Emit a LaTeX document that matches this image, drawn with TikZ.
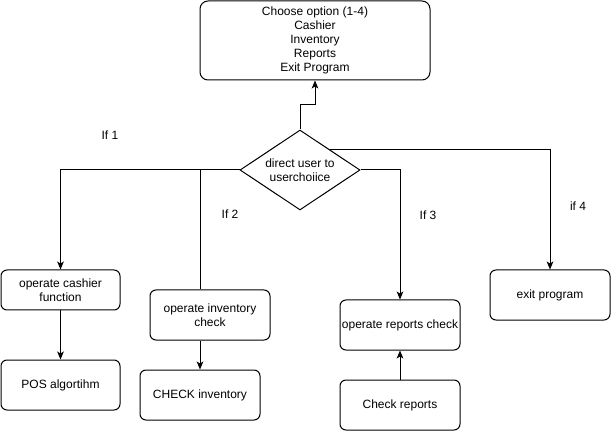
\documentclass[tikz,border=0pt]{standalone}
\usepackage{fontspec}
\setmainfont{Liberation Sans}
\usetikzlibrary{shapes.geometric,arrows.meta,calc}
\begin{document}
\begin{tikzpicture}[x=0.75pt,y=-0.75pt,
  box/.style={draw,line width=0.75pt,rounded corners=4.5pt,align=center,font=\fontsize{9}{10.5}\selectfont,inner sep=0pt},
  dia/.style={draw,line width=0.75pt,diamond,aspect=1.5,minimum width=90pt,minimum height=60pt,inner sep=0pt,align=center,font=\fontsize{9}{10.5}\selectfont},
  lbl/.style={font=\fontsize{9}{10.5}\selectfont,inner sep=0pt},
  ln/.style={line width=0.75pt},
  arr/.style={line width=0.75pt,-{Stealth[length=6pt,width=5pt,inset=1.5pt]}}]
\useasboundingbox (0,0) rectangle (611,431);
\node[box,minimum width=172.5pt,minimum height=59.25pt,rounded corners=6pt] (top) at (315,40.5) {Choose option (1-4)\\Cashier\\Inventory\\Reports\\Exit Program};
\node[dia] (d) at (300,170) {direct user to\\userchoiice};
\node[box,minimum width=89.25pt,minimum height=30pt] (cash) at (60.5,290) {operate cashier\\function};
\node[box,minimum width=89.25pt,minimum height=37.5pt] (pos) at (60.5,385) {POS algortihm};
\node[box,minimum width=90pt,minimum height=37.5pt] (inv) at (210,315) {operate inventory\\check};
\node[box,minimum width=90pt,minimum height=37.5pt] (chk) at (200,395) {CHECK inventory};
\node[box,minimum width=90pt,minimum height=37.5pt] (rep) at (400,325) {operate reports check};
\node[box,minimum width=90pt,minimum height=37.5pt] (crep) at (400,405) {Check reports};
\node[box,minimum width=90pt,minimum height=37.5pt] (exit) at (550,295) {exit program};
\node[lbl] (l1) at (110,135) {If 1};
\node[lbl] (l2) at (230,214) {If 2};
\node[lbl] (l3) at (428,215) {If 3};
\node[lbl] (l4) at (578,206) {if 4};
\coordinate (m) at (300,105);
\coordinate (ne) at ($(d.north)!0.5!(d.east)$);
\draw[arr] (d.north) -- (m) -| (top.south);
\draw[arr] (d.west) -| (cash.north);
\draw[ln] (d.west) -| (chk.north |- inv.north);
\draw[arr] (d.east) -| (rep.north);
\draw[arr] (ne) -| (exit.north);
\draw[arr] (cash.south) -- (pos.north);
\draw[arr] (chk.north |- inv.south) -- (chk.north);
\draw[arr] (crep.north) -- (rep.south);
\end{tikzpicture}
\end{document}
